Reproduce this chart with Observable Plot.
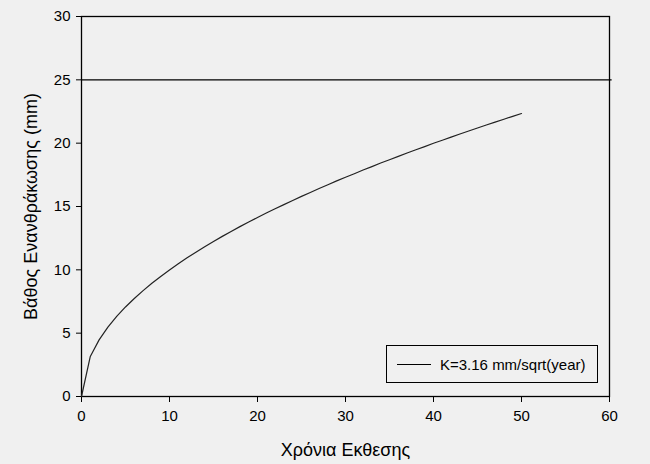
<!DOCTYPE html>
<html>
<head>
<meta charset="utf-8">
<script src="https://cdn.jsdelivr.net/npm/d3@7"></script>
<script src="https://cdn.jsdelivr.net/npm/@observablehq/plot@0.6"></script>
<style>
  html, body { margin: 0; padding: 0; background: #f0f0f0; }
  #chart { position: relative; width: 650px; height: 464px; font-family: "Liberation Sans", Arial, sans-serif; }
  #legend { position: absolute; left: 386px; top: 345px; width: 212px; height: 38px; border: 1px solid #000; box-sizing: border-box; display: flex; align-items: center; font-size: 15px; color: #000; }
  #legend .sw { width: 34px; height: 0; border-top: 1px solid #000; margin-left: 10px; margin-right: 9px; }
</style>
</head>
<body>
<div id="chart"><div id="legend"><span class="sw"></span><span id="legtxt"></span></div></div>
<script>
const years = [0,1,2,3,4,5,6,7,8,9,10,11,12,13,14,15,16,17,18,19,20,21,22,23,24,25,26,27,28,29,30,31,32,33,34,35,36,37,38,39,40,41,42,43,44,45,46,47,48,49,50];
const depth = [0,3.16,4.47,5.47,6.32,7.07,7.74,8.36,8.94,9.48,9.99,10.48,10.95,11.39,11.82,12.24,12.64,13.03,13.41,13.77,14.13,14.48,14.82,15.15,15.48,15.80,16.11,16.42,16.72,17.02,17.31,17.59,17.88,18.15,18.43,18.69,18.96,19.22,19.48,19.73,19.99,20.23,20.48,20.72,20.96,21.20,21.43,21.66,21.89,22.12,22.34];
const limit = [25];
const xTicks = [0,10,20,30,40,50,60];
const yTicks = [0,5,10,15,20,25,30];
const seriesName = "K=3.16 mm/sqrt(year)";
const xTitle = "Χρόνια Εκθεσης";
const yTitle = "Βάθος Ενανθράκωσης (mm)";

const data = years.map((t, i) => ({t, d: depth[i]}));

const chart = Plot.plot({
  width: 650,
  height: 464,
  marginLeft: 81,
  marginRight: 41,
  marginTop: 16,
  marginBottom: 68,
  style: { background: "#f0f0f0", fontFamily: "'Liberation Sans', Arial, sans-serif", fontSize: "15px", color: "#000", overflow: "visible" },
  x: { domain: [0, 60], ticks: xTicks },
  y: { domain: [0, 30], ticks: yTicks },
  marks: [
    Plot.axisX({ticks: xTicks, tickSize: 6, tickPadding: 8, label: null, color: "#000", strokeWidth: 1, strokeOpacity: 1, fontSize: 15}),
    Plot.axisY({ticks: yTicks, tickSize: 5, tickPadding: 6, label: null, color: "#000", strokeWidth: 1, strokeOpacity: 1, fontSize: 15}),
    Plot.frame({stroke: "#000", strokeWidth: 1.3}),
    Plot.ruleY(limit, {x1: 0, x2: 60.3, stroke: "#000", strokeWidth: 1.3, clip: false}),
    Plot.line(data, {x: "t", y: "d", stroke: "#222", strokeWidth: 1.2}),
    Plot.text([xTitle], {frameAnchor: "bottom", dy: 54, lineAnchor: "middle", fontSize: 18, fill: "#000"}),
    Plot.text([yTitle], {frameAnchor: "left", dx: -50, rotate: -90, textAnchor: "middle", lineAnchor: "middle", fontSize: 18, fill: "#000", style: "letter-spacing: 1.3px"})
  ]
});
document.getElementById("chart").prepend(chart);
document.getElementById("legtxt").textContent = seriesName;
</script>
</body>
</html>
